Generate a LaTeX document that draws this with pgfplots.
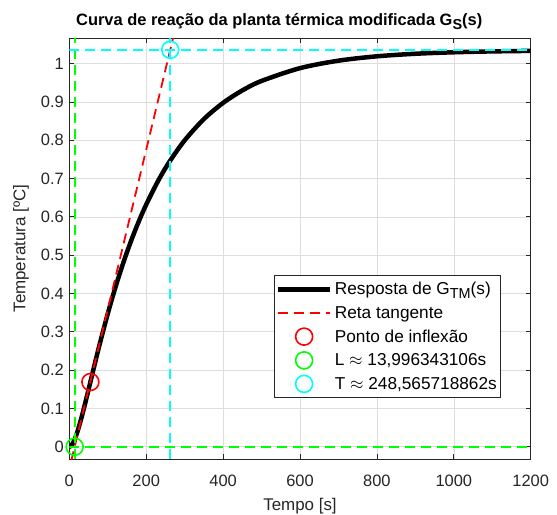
\documentclass[border=0pt]{standalone}
\usepackage{fontspec}
\setmainfont{Liberation Sans}
\usepackage{pgfplots}
\pgfplotsset{compat=1.18}
\definecolor{axgray}{gray}{0.15}
\definecolor{gridgray}{gray}{0.87}
\definecolor{mgreen}{rgb}{0,1,0}
\definecolor{mcyan}{rgb}{0,1,1}
\definecolor{mred}{rgb}{1,0,0}

\pgfplotsset{
  longline legend/.style={legend image code/.code={\draw[##1] (0bp,0bp) -- (52bp,0bp);}},
  circle legend/.style={legend image code/.code={\draw[##1] plot coordinates {(26bp,0bp)};}},
}

% Step response of the modified thermal plant (time [s], temperature [ºC])
\pgfplotstableread{
t y
0    0
5    0.00279
10   0.01031
15   0.02153
20   0.03558
30   0.06950
40   0.10814
50   0.14898
60   0.19035
70   0.23134
80   0.27134
100  0.34703
120  0.41627
140  0.47893
160  0.53548
180  0.58632
200  0.63203
230  0.69203
260  0.74312
300  0.79962
350  0.85510
400  0.89749
450  0.92993
500  0.95470
600  0.98809
700  1.00760
800  1.01899
900  1.02565
1000 1.02954
1100 1.03181
1200 1.03314
}\resposta

\begin{document}
\begin{tikzpicture}
\begin{axis}[
  name=main,
  scale only axis,
  width=461.4bp, height=420.7bp,
  xmin=0, xmax=1200, ymin=-0.032, ymax=1.066,
  xtick={0,200,400,600,800,1000,1200},
  ytick={0,0.1,0.2,0.3,0.4,0.5,0.6,0.7,0.8,0.9,1},
  /pgf/number format/assume math mode=true,
  /pgf/number format/1000 sep={},
  tick label style={font=\fontsize{16.5}{19}\selectfont, color=axgray},
  xticklabel style={yshift=-13bp},
  yticklabel style={xshift=-2bp},
  tick align=inside,
  major tick length=5bp,
  tick style={axgray, line width=0.7bp},
  axis line style={axgray, line width=0.8bp},
  grid=major,
  grid style={gridgray, line width=0.6bp},
  title={\textbf{Curva de reação da planta térmica modificada G\raisebox{-0.45ex}{\fontsize{14.5}{16}\selectfont S}(s)}},
  every axis title/.style={at={(axis description cs:0.455,1)}, anchor=base,
    yshift=13bp, font=\fontsize{16.5}{19}\selectfont},
  xlabel={Tempo [s]},
  ylabel={Temperatura [ºC]},
  every axis x label/.style={at={(axis description cs:0.5,0)}, anchor=center,
    yshift=-47bp, font=\fontsize{17}{19}\selectfont, color=axgray},
  every axis y label/.style={at={(axis description cs:0,0.5)}, anchor=center,
    rotate=90, yshift=48.3bp, font=\fontsize{17}{19}\selectfont, color=axgray},
  legend style={
    at={(0.4437,0.145)}, anchor=south west,
    draw=axgray, line width=0.7bp, fill=white,
    font=\fontsize{17.3}{19}\selectfont,
    inner xsep=1.5bp, inner ysep=5bp,
    nodes={inner xsep=2.5bp},
    row sep=6bp,
  },
  legend cell align=left,
]
% response curve
\addplot[black, line width=4.5bp, smooth, longline legend]
  table[x=t, y=y] {\resposta};
\addlegendentry{Resposta de G\raisebox{-0.45ex}{\fontsize{14.5}{16}\selectfont TM}(s)}

% tangent line at the inflection point
\addplot[mred, line width=1.8bp, dash pattern=on 10bp off 6bp, longline legend]
  coordinates {(5,-0.0375) (272,1.0753)};
\addlegendentry{Reta tangente}

% inflection point, L and T markers
\addplot[mred, only marks, mark=o, mark size=8.5bp, mark options={line width=1.6bp}, circle legend]
  coordinates {(54.9,0.169)};
\addlegendentry{Ponto de inflexão}
\addplot[mgreen, only marks, mark=o, mark size=8.5bp, mark options={line width=1.6bp}, circle legend]
  coordinates {(13.996343106,0)};
\addlegendentry{L $\approx$ 13,996343106s}
\addplot[mcyan, only marks, mark=o, mark size=8.5bp, mark options={line width=1.6bp}, circle legend]
  coordinates {(262.562061968,1.036)};
\addlegendentry{T $\approx$ 248,565718862s}

% guide lines for L and L+T
\addplot[mgreen, line width=1.8bp, dash pattern=on 10bp off 6bp, forget plot]
  coordinates {(13.996343106,-0.032) (13.996343106,1.066)};
\addplot[mgreen, line width=1.8bp, dash pattern=on 10bp off 6bp, forget plot]
  coordinates {(0,0) (1200,0)};
\addplot[mcyan, line width=1.8bp, dash pattern=on 10bp off 6bp, forget plot]
  coordinates {(262.562061968,-0.032) (262.562061968,1.066)};
\addplot[mcyan, line width=1.8bp, dash pattern=on 10bp off 6bp, forget plot]
  coordinates {(0,1.036) (1200,1.036)};
\end{axis}
\pgfresetboundingbox
\path ([shift={(-69.3bp,-56bp)}]main.south west) rectangle ([shift={(26.3bp,38.3bp)}]main.north east);
\end{tikzpicture}
\end{document}
